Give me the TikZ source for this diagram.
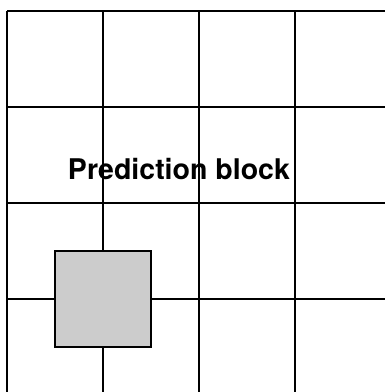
\documentclass[tikz,border=0pt]{standalone}
\usepackage{fontspec}
\setmainfont{TeX Gyre Heros}
\usepackage{tikz}

\begin{document}
\begin{tikzpicture}[
  x=1pt, y=-1pt,
  gridline/.style={draw=black, line width=1.3pt},
  predblock/.style={draw=black, line width=2pt, fill=black!20,
                    minimum size=96pt, inner sep=0pt},
  blocklabel/.style={font=\bfseries\fontsize{28.5}{32}\selectfont, inner sep=0pt}
]
\useasboundingbox (0,0) rectangle (385,392);
\foreach \x in {7,103,199,295} \draw[gridline] (\x,11) -- (\x,392);
\foreach \y in {11,107,203,299} \draw[gridline] (7,\y) -- (385,\y);
\node[blocklabel, anchor=base] (title) at (179,179) {Prediction block};
\node[predblock] (block) at (103,299) {};
\end{tikzpicture}
\end{document}
